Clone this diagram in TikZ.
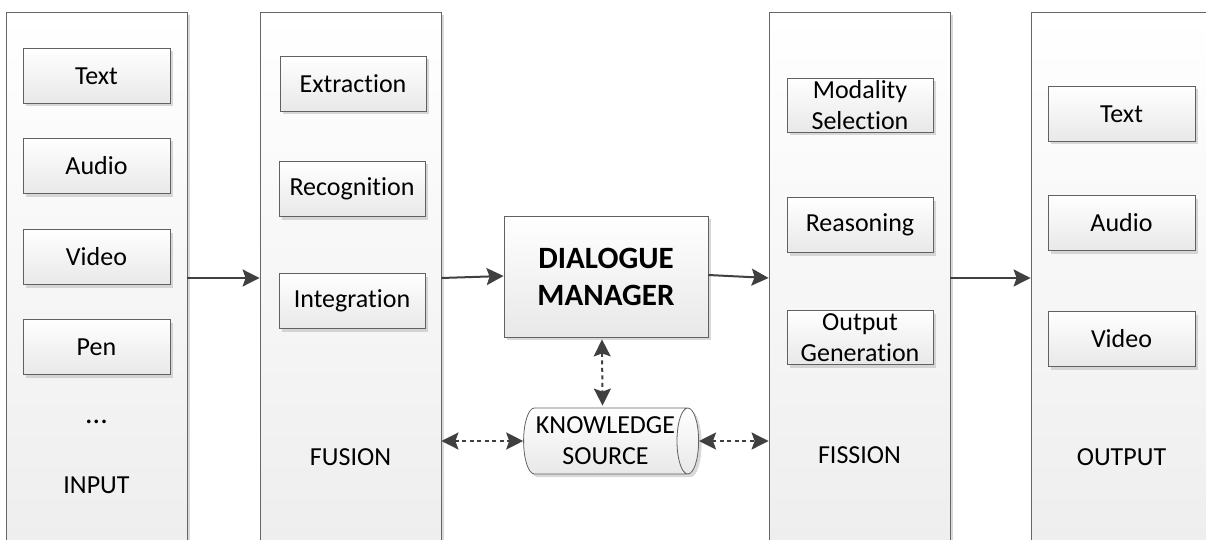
\documentclass[tikz,border=0pt]{standalone}
\usepackage{fontspec}
\setmainfont[Ligatures=NoCommon]{Carlito}
\usetikzlibrary{arrows.meta,shapes.geometric,shadows,calc}
\begin{document}
\begin{tikzpicture}[x=1pt,y=-1pt,
  shad/.style={drop shadow={shadow xshift=3pt,shadow yshift=-3pt,fill=black!25,opacity=0.6}},
  col/.style={draw=black!60,line width=0.8pt,top color=white,bottom color=black!7,
    minimum width=181pt,minimum height=560pt,inner sep=0pt,shad},
  box/.style={draw=black!62,line width=0.8pt,top color=white,bottom color=black!9,
    minimum width=147pt,minimum height=55pt,inner sep=0pt,align=center,shad,
    font=\fontsize{26}{31}\selectfont},
  lbl/.style={font=\fontsize{26}{31}\selectfont,inner sep=0pt},
  arr/.style={draw=black!75,line width=2pt,-{Stealth[length=17pt,width=17pt,inset=3pt]}},
  darr/.style={draw=black!75,line width=2pt,dash pattern=on 4pt off 3.5pt,
    {Stealth[length=17pt,width=17pt,inset=3pt]}-{Stealth[length=17pt,width=17pt,inset=3pt]}}
]
\useasboundingbox (0,0) rectangle (1206,540);
\clip (0,0) rectangle (1206,540);
% columns
\node[col] (inp) at (96.5,292) {};
\node[col] (fus) at (350.5,292) {};
\node[col] (fis) at (859.5,292) {};
\node[col] (out) at (1121.5,292) {};
% input
\node[box] (i1) at (96.5,76) {Text};
\node[box] (i2) at (96.5,166) {Audio};
\node[box] (i3) at (96.5,257) {Video};
\node[box] (i4) at (96.5,347) {Pen};
\node[lbl,font=\fontsize{30}{31}\selectfont] (idots) at (96.5,422) {...};
\node[lbl] (ilbl) at (96.5,485) {INPUT};
% fusion
\node[box,minimum width=146pt] (f1) at (353,84) {Extraction};
\node[box,minimum width=146pt] (f2) at (352,189) {Recognition};
\node[box,minimum width=146pt] (f3) at (352,301) {Integration};
\node[lbl] (flbl) at (350.5,457) {FUSION};
% fission
\node[box,minimum width=146pt,minimum height=54pt] (s1) at (860,105) {Modality\\Selection};
\node[box,minimum width=146pt] (s2) at (860,225) {Reasoning};
\node[box,minimum width=146pt,minimum height=54pt] (s3) at (860,337.5) {Output\\Generation};
\node[lbl] (slbl) at (859.5,455) {FISSION};
% output
\node[box] (o1) at (1121.5,114) {Text};
\node[box] (o2) at (1121.5,223) {Audio};
\node[box] (o3) at (1121.5,339) {Video};
\node[lbl] (olbl) at (1121.5,457) {OUTPUT};
% dialogue manager
\node[box,minimum width=204pt,minimum height=121pt,font=\fontsize{31}{37}\selectfont\bfseries] (dm) at (606,276.5) {DIALOGUE\\MANAGER};
% knowledge source
\node[cylinder,draw=black!62,line width=0.8pt,shad,top color=white,bottom color=black!9,
  minimum width=66pt,minimum height=175pt,aspect=0.45,inner sep=0pt,align=center,
  font=\fontsize{26}{31}\selectfont] (ks) at (605.5,441) {KNOWLEDGE\\SOURCE};
% connectors
\draw[arr] (inp.east |- 0,278) -- (fus.west |- 0,278);
\draw[arr] (fus.east |- 0,278) -- (dm.west |- 0,276);
\draw[arr] (dm.east |- 0,275) -- (fis.west |- 0,278);
\draw[arr] (fis.east |- 0,278) -- (out.west |- 0,278);
\draw[darr] ($(dm.south)+(-4,2)$) -- ($(ks.north)+(-3,-2)$);
\draw[darr] (fus.east |- ks.west) -- (ks.west);
\draw[darr] (ks.east) -- (fis.west |- ks.east);
\end{tikzpicture}
\end{document}
